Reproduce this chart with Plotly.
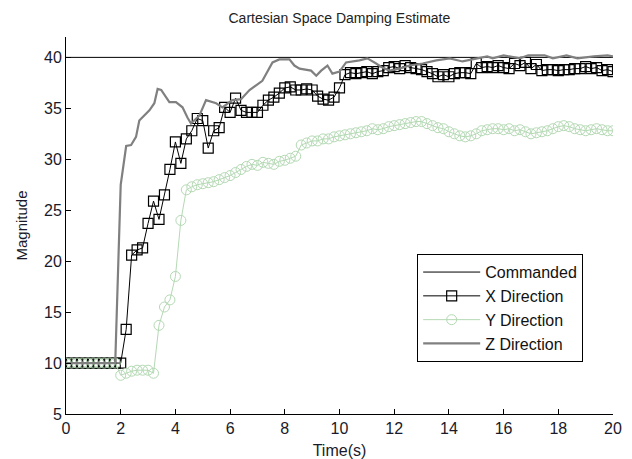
import numpy as np
import plotly.graph_objects as go

# sample times for X and Y directions (0.2 s steps)
t_xy = np.round(np.arange(0, 20.0001, 0.2), 1)

x_dir = [10, 10, 10, 10, 10, 10, 10, 10, 10, 10, 10,
         13.3, 20.6, 21.1, 21.3, 23.7, 25.9, 24.1, 26.5, 29.0, 31.7,
         29.6, 32.0, 32.8, 34.0, 33.8, 31.1, 32.8, 33.1, 35.1, 34.6,
         36.0, 34.8, 34.6, 34.6, 34.6, 35.3, 35.8, 36.1, 36.5, 37.0,
         37.1, 36.8, 36.8, 36.9, 36.8, 36.2, 35.9, 35.8, 36.1, 37.0,
         38.3, 38.5, 38.4, 38.5, 38.6, 38.4, 38.6, 38.7, 39.0, 39.1,
         38.9, 39.2, 39.0, 38.9, 38.8, 38.6, 38.4, 38.1, 38.3, 38.1,
         38.4, 38.5, 38.5, 38.4, 39.4, 39.0, 39.1, 39.0, 39.2, 39.0,
         38.9, 39.4, 39.2, 39.5, 38.9, 39.3, 38.7, 38.8, 38.8, 38.7,
         38.8, 38.8, 38.9, 38.9, 39.1, 38.9, 39.0, 38.7, 38.8, 38.6]

y_dir = [10, 10, 10, 10, 10, 10, 10, 10, 10, 10,
         8.8, 9.0, 9.2, 9.3, 9.3, 9.3, 9.0, 13.7, 15.5, 16.2,
         18.5, 24.0, 27.0, 27.3, 27.5, 27.6, 27.7, 27.8, 28.0, 28.2,
         28.4, 28.7, 29.0, 29.3, 29.5, 29.4, 29.7, 29.6, 29.5, 29.8,
         29.9, 30.1, 30.3, 31.4, 31.6, 31.8, 31.8, 32.0, 32.0, 32.2,
         32.3, 32.4, 32.5, 32.6, 32.7, 32.8, 33.0, 32.9, 33.0, 33.2,
         33.3, 33.4, 33.5, 33.6, 33.7, 33.7, 33.5, 33.3, 33.1, 33.0,
         32.7, 32.5, 32.3, 32.2, 32.3, 32.5, 32.8, 32.9, 33.0, 33.0,
         32.9, 33.0, 32.8, 32.9, 32.7, 32.5, 32.6, 32.7, 32.8, 33.0,
         33.2, 33.3, 33.2, 33.0, 32.9, 32.8, 32.9, 33.0, 32.9, 32.8, 32.8]

# Z direction (line only)
t_z = [0, 1.8, 2.0, 2.2, 2.38, 2.56, 2.68, 2.87, 3.05, 3.23, 3.35, 3.48, 3.66,
       3.78, 4.02, 4.26, 4.44, 4.57, 4.88, 5.12, 5.49, 5.72, 6.08, 6.4, 6.71,
       7.18, 7.55, 7.8, 8.17, 8.35, 8.54, 8.96, 9.15, 9.33, 9.56, 9.74, 10.0,
       10.24, 10.73, 11.02, 11.34, 11.57, 11.83, 12.2, 12.56, 13.04, 13.54,
       14.03, 14.5, 14.9, 15.4, 15.6, 16.0, 16.6, 16.9, 17.5, 17.8, 18.3,
       18.7, 19.3, 19.8, 20.0]
z_dir = [10, 10, 27.5, 31.3, 31.4, 32.2, 33.8, 34.3, 34.8, 35.5, 36.9, 36.8,
         36.1, 35.6, 35.6, 35.1, 34.1, 33.5, 34.3, 35.8, 35.5, 35.1, 35.8,
         35.9, 36.8, 37.7, 39.5, 39.8, 39.8, 39.2, 38.9, 38.7, 38.2, 38.7,
         39.2, 38.4, 38.6, 39.5, 39.7, 39.9, 39.4, 39.0, 38.7, 38.9, 39.2,
         39.4, 39.7, 39.9, 39.6, 39.8, 40.1, 39.9, 40.2, 39.9, 40.2, 40.2,
         39.9, 40.2, 39.9, 40.1, 40.2, 40.1]

t_cmd = [0, 20]
cmd = [40, 40]

fig = go.Figure()
fig.add_trace(go.Scatter(x=t_cmd, y=cmd, mode="lines", name="Commanded",
                         legendgroup="a",
                         line=dict(color="black", width=1)))
fig.add_trace(go.Scatter(x=t_xy, y=x_dir, mode="lines+markers", name="X Direction",
                         legendgroup="b",
                         line=dict(color="black", width=1),
                         marker=dict(symbol="square-open", size=10, color="black",
                                     line=dict(width=1.2))))
fig.add_trace(go.Scatter(x=t_xy, y=y_dir, mode="lines+markers", name="Y Direction",
                         legendgroup="c",
                         line=dict(color="#b4d9b4", width=1),
                         marker=dict(symbol="circle-open", size=10, color="#b4d9b4",
                                     line=dict(width=1))))
fig.add_trace(go.Scatter(x=t_z, y=z_dir, mode="lines", name="Z Direction",
                         legendgroup="d",
                         line=dict(color="#808080", width=2.2)))

font_fam = "Liberation Sans, Arial, sans-serif"
fig.update_layout(
    width=632, height=459,
    margin=dict(l=66, r=19, t=37, b=45),
    paper_bgcolor="white", plot_bgcolor="white",
    font=dict(family=font_fam, size=16, color="#1a1a2a"),
    title=dict(text="Cartesian Space Damping Estimate", x=0.537, xanchor="center",
               y=0.96, yanchor="middle", font=dict(size=14, color="#222")),
    showlegend=True,
    legend=dict(x=0.642, y=0.424, xanchor="left", yanchor="top",
                bordercolor="black", borderwidth=1, bgcolor="white",
                font=dict(size=16, color="#111"), tracegroupgap=0,
                itemwidth=57),
    xaxis=dict(range=[0, 20], tickvals=list(range(0, 21, 2)),
               showline=True, linecolor="black", linewidth=1,
               ticks="inside", ticklen=5, tickcolor="black",
               showgrid=False, zeroline=False, mirror=False, automargin=False,
               title=dict(text="Time(s)", standoff=8, font=dict(size=16)),
               tickfont=dict(size=16)),
    yaxis=dict(range=[5, 42], tickvals=list(range(5, 41, 5)),
               showline=True, linecolor="black", linewidth=1,
               ticks="inside", ticklen=5, tickcolor="black",
               showgrid=False, zeroline=False, mirror=False, automargin=False,
               title=dict(text="Magnitude", standoff=12, font=dict(size=15)),
               tickfont=dict(size=16)),
)

fig.write_html("out.html")
